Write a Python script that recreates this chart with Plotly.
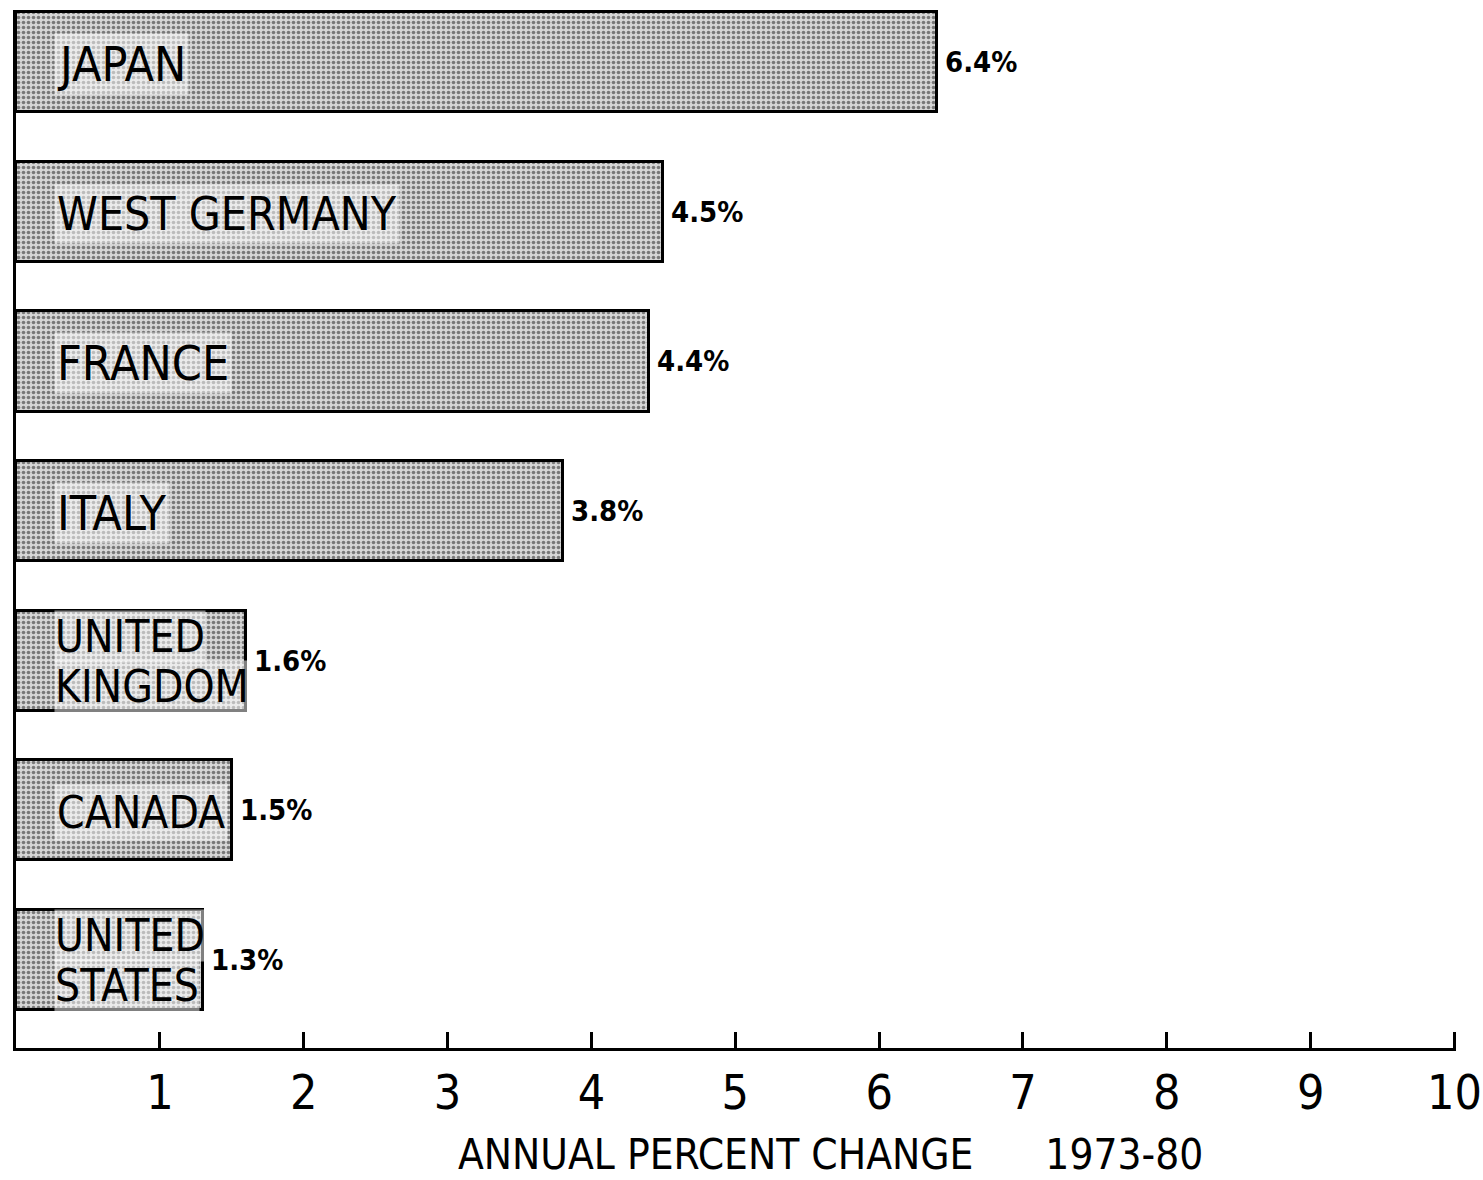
import plotly.graph_objects as go

countries = ["UNITED<br>STATES", "CANADA", "UNITED<br>KINGDOM", "ITALY", "FRANCE", "WEST GERMANY", "JAPAN"]
values = [1.3, 1.5, 1.6, 3.8, 4.4, 4.5, 6.4]
value_labels = ["1.3%", "1.5%", "1.6%", "3.8%", "4.4%", "4.5%", "6.4%"]
tick_vals = [1, 2, 3, 4, 5, 6, 7, 8, 9, 10]
tick_text = ["1", "2", "3", "4", "5", "6", "7", "8", "9", "10"]
x_title = "ANNUAL PERCENT CHANGE      1973-80"

FONT = "DejaVu Sans Condensed, Liberation Sans Narrow, Arial Narrow, sans-serif"
ypos = list(range(len(countries)))
label_sizes = {"CANADA": 44, "WEST GERMANY": 46}

fig = go.Figure()
fig.add_trace(go.Bar(
    x=values, y=ypos, orientation="h", width=0.67,
    marker=dict(
        color="#c8c8c8",
        line=dict(color="black", width=3),
        pattern=dict(shape=".", fgcolor="#1a1a1a", bgcolor="#d6d6d6", size=5, solidity=0.4),
    ),
    hoverinfo="skip",
))

annotations = []
halo = "rgba(255,255,255,0.5)"
for i, (c, v, vl) in enumerate(zip(countries, values, value_labels)):
    lines = c.split("<br>")
    if len(lines) == 2:
        for k, ln in enumerate(lines):
            annotations.append(dict(
                x=0, y=i, xref="x", yref="y", text=ln, showarrow=False,
                xanchor="left", yanchor="middle", xshift=38,
                yshift=24 if k == 0 else -26,
                font=dict(family=FONT, size=44, color="black"),
                bgcolor=halo, borderpad=0,
            ))
    else:
        annotations.append(dict(
            x=0, y=i, xref="x", yref="y", text=c, showarrow=False,
            xanchor="left", yanchor="middle", xshift=38, yshift=-2,
            font=dict(family=FONT, size=label_sizes.get(c, 48), color="black"),
            bgcolor=halo, borderpad=2,
        ))
    annotations.append(dict(
        x=v, y=i, xref="x", yref="y", text=vl, showarrow=False,
        xanchor="left", yanchor="middle", xshift=6,
        font=dict(family=FONT, size=29, color="black", weight="bold"),
    ))

annotations.append(dict(
    x=5.66, y=0, xref="x", yref="paper", text=x_title, showarrow=False,
    xanchor="center", yanchor="top", yshift=-80,
    font=dict(family=FONT, size=42, color="black"),
))

fig.update_layout(
    width=1483, height=1180,
    margin=dict(l=16, r=27, t=10, b=132, autoexpand=False),
    plot_bgcolor="white", paper_bgcolor="white",
    showlegend=False, bargap=0,
    annotations=annotations,
    xaxis=dict(
        range=[0, 10.01], tickvals=tick_vals, ticktext=tick_text,
        showgrid=False, zeroline=False, automargin=False,
        showline=True, linecolor="black", linewidth=3,
        ticks="inside", ticklen=16, tickwidth=3, tickcolor="black",
        tickfont=dict(family=FONT, size=48, color="black"),
        ticklabeloverflow="allow",
    ),
    yaxis=dict(
        range=[-0.59, 6.35], showticklabels=False, showgrid=False, zeroline=False,
        showline=True, linecolor="black", linewidth=3, ticks="", automargin=False,
    ),
)

fig.write_html("out.html")
